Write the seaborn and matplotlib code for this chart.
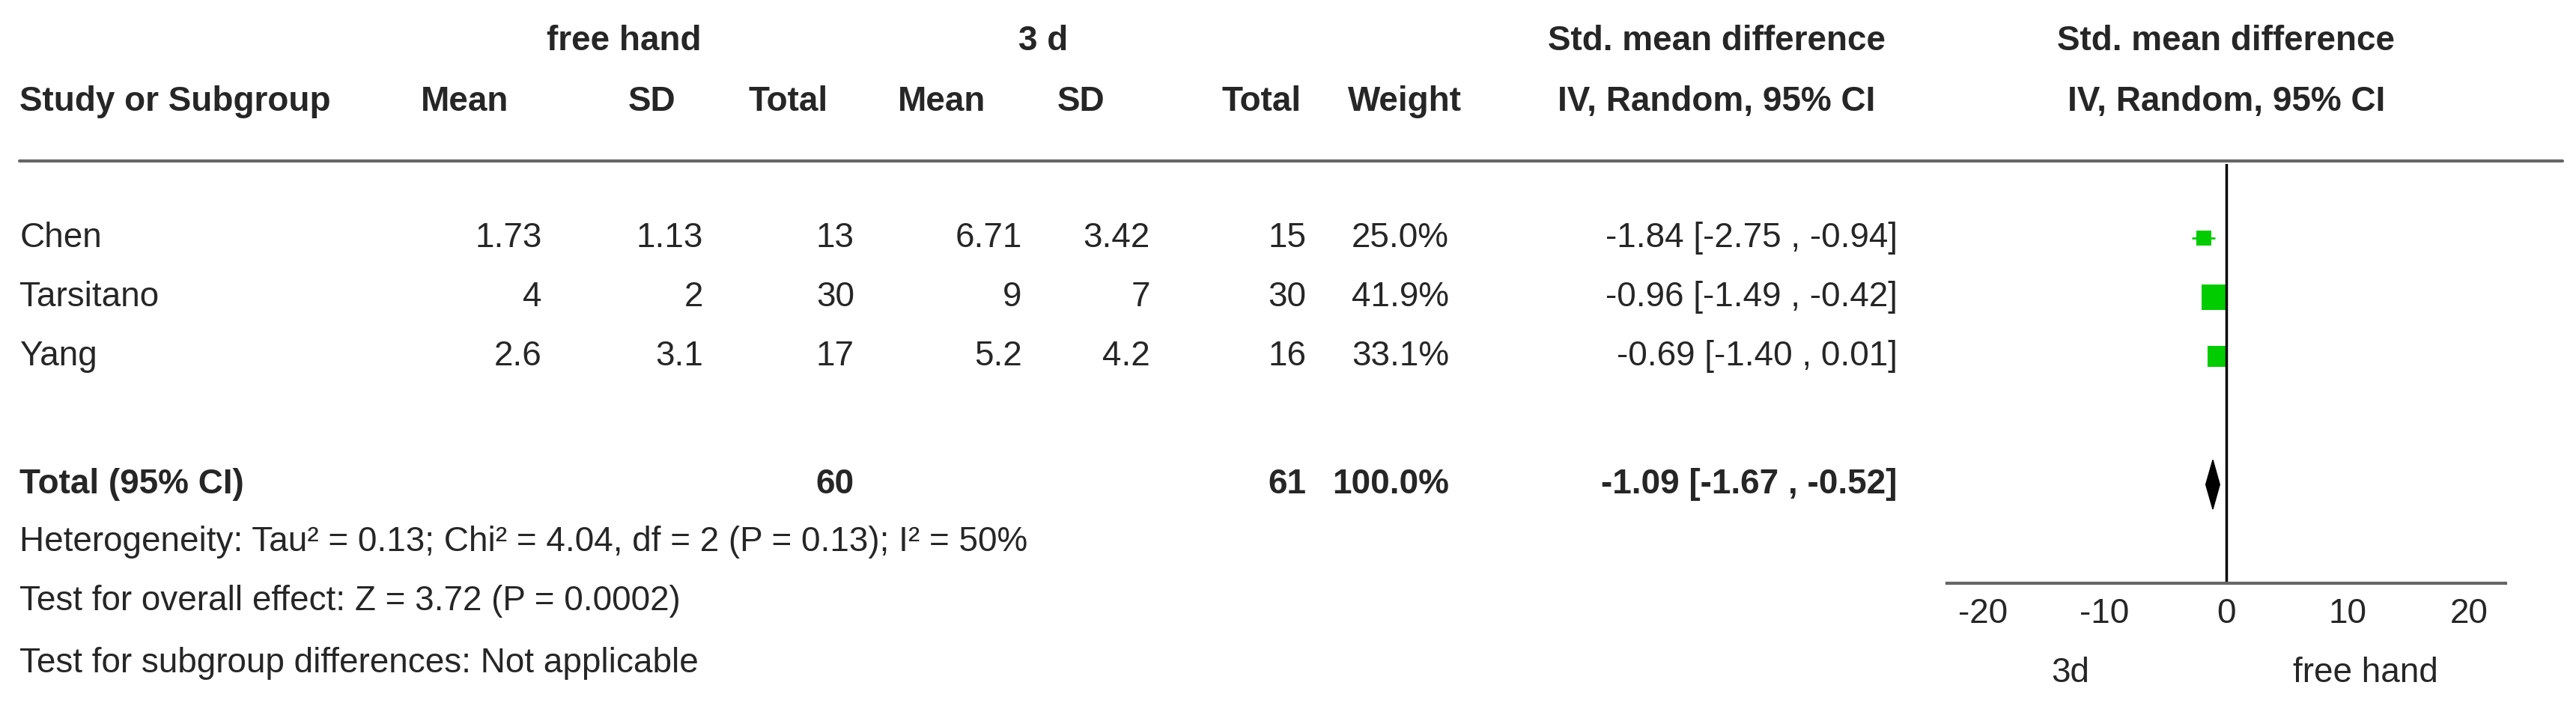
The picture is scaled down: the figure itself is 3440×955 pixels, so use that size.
import matplotlib
matplotlib.use("Agg")
import matplotlib.pyplot as plt
import seaborn as sns
import pandas as pd

studies = ["Chen", "Tarsitano", "Yang"]
fh_mean = ["1.73", "4", "2.6"]
fh_sd = ["1.13", "2", "3.1"]
fh_total = [13, 30, 17]
d3_mean = ["6.71", "9", "5.2"]
d3_sd = ["3.42", "7", "4.2"]
d3_total = [15, 30, 16]
weights = [25.0, 41.9, 33.1]
smd = [-1.84, -0.96, -0.69]
ci_low = [-2.75, -1.49, -1.40]
ci_high = [-0.94, -0.42, 0.01]
pooled = (-1.09, -1.67, -0.52)
total_fh, total_d3 = 60, 61
xticks = [-20, -10, 0, 10, 20]

sns.set_style("white")
plt.rcParams["font.family"] = ["Liberation Sans", "DejaVu Sans"]
plt.rcParams["axes.unicode_minus"] = False

W, H = 3440, 955
S = 3440 / 1568  # reference layout measured on a 1568-wide view
fig = plt.figure(figsize=(W / 100, H / 100), dpi=100)
FS = 33


def t(x, y, s, ha="left", bold=False):
    fig.text(x * S / W, 1 - y * S / H, s, ha=ha, va="center", fontsize=FS,
             fontweight="bold" if bold else "normal")


# headers
t(380, 25, "free hand", "center", True)
t(635, 25, "3 d", "center", True)
t(1045, 25, "Std. mean difference", "center", True)
t(1355, 25, "Std. mean difference", "center", True)
for x, s, ha in [(12, "Study or Subgroup", "left"), (283, "Mean", "center"),
                 (397, "SD", "center"), (480, "Total", "center"),
                 (573, "Mean", "center"), (658, "SD", "center"),
                 (768, "Total", "center"), (855, "Weight", "center"),
                 (1045, "IV, Random, 95% CI", "center"),
                 (1355, "IV, Random, 95% CI", "center")]:
    t(x, 62, s, ha, True)
fig.add_artist(plt.Line2D([12 * S / W, 1560 * S / W], [1 - 98 * S / H] * 2,
                          color="#666666", lw=3))

row_y = [145, 181, 217]
for i, name in enumerate(studies):
    y = row_y[i]
    t(12, y, name)
    t(330, y, fh_mean[i], "right")
    t(428, y, fh_sd[i], "right")
    t(520, y, str(fh_total[i]), "right")
    t(622, y, d3_mean[i], "right")
    t(700, y, d3_sd[i], "right")
    t(795, y, str(d3_total[i]), "right")
    t(882, y, f"{weights[i]:.1f}%", "right")
    t(1155, y, f"{smd[i]:.2f} [{ci_low[i]:.2f} , {ci_high[i]:.2f}]", "right")

t(12, 295, "Total (95% CI)", bold=True)
t(520, 295, str(total_fh), "right", True)
t(795, 295, str(total_d3), "right", True)
t(882, 295, "100.0%", "right", True)
t(1155, 295, f"{pooled[0]:.2f} [{pooled[1]:.2f} , {pooled[2]:.2f}]", "right", True)
t(12, 330, "Heterogeneity: Tau² = 0.13; Chi² = 4.04, df = 2 (P = 0.13); I² = 50%")
t(12, 366, "Test for overall effect: Z = 3.72 (P = 0.0002)")
t(12, 404, "Test for subgroup differences: Not applicable")

# forest panel
x0, x1, ytop, ybot = 1185, 1525, 100, 355
ax = fig.add_axes([x0 * S / W, 1 - ybot * S / H, (x1 - x0) * S / W, (ybot - ytop) * S / H])
ax.set_xlim(-23, 23)
ax.set_ylim(ybot, ytop)
df = pd.DataFrame({"smd": smd, "y": row_y, "w": weights})
sns.scatterplot(data=df, x="smd", y="y", size="w", sizes=(200, 600), marker="s",
                color="#00cc00", edgecolor="none", legend=False, ax=ax)
for lo, hi, y in zip(ci_low, ci_high, row_y):
    ax.plot([lo, hi], [y, y], color="#00cc00", lw=2)
est, lo, hi = pooled
ax.fill([lo, est, hi, est], [295, 280, 295, 310], color="black")
ax.axvline(0, color="black", lw=2.5)
for s in ["top", "right", "left"]:
    ax.spines[s].set_visible(False)
ax.spines["bottom"].set_color("#666666")
ax.spines["bottom"].set_linewidth(3)
ax.set_yticks([])
ax.set_xticks(xticks)
ax.tick_params(axis="x", direction="inout", length=16, width=2, labelsize=FS, pad=6)
ax.set_xlabel("")
ax.set_ylabel("")
t(1260, 410, "3d", "center")
t(1440, 410, "free hand", "center")

fig.savefig("out.png", dpi=100)
